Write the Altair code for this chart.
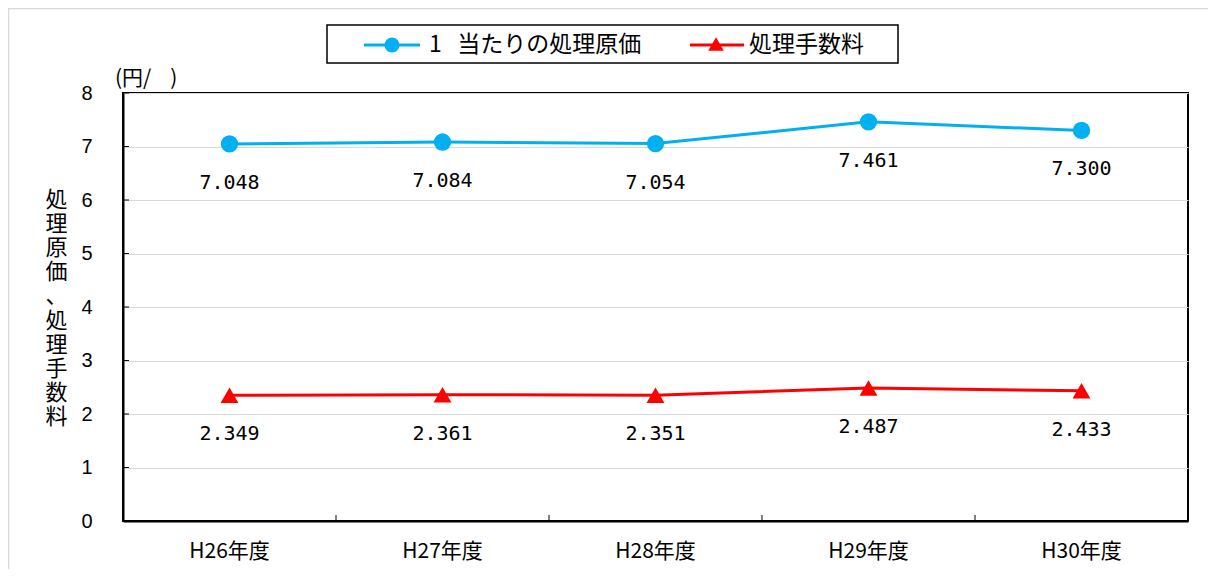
import altair as alt
import pandas as pd

YEARS = ["H26年度", "H27年度", "H28年度", "H29年度", "H30年度"]
UNIT_COST = [7.048, 7.084, 7.054, 7.461, 7.300]
FEE = [2.349, 2.361, 2.351, 2.487, 2.433]
Y_TICKS = [0, 1, 2, 3, 4, 5, 6, 7, 8]
SERIES = ["1\u00a0\u00a0\u00a0当たりの処理原価", "処理手数料"]
COLORS = ["#00B0F0", "#FF0000"]
Y_TITLE = "処理原価、処理手数料"
UNIT_LABEL = "(円/\u00a0\u00a0\u00a0\u00a0)"

W, H = 1065, 428
JP = "Noto Sans CJK JP"

df = pd.DataFrame({
    "year": YEARS * 2,
    "value": UNIT_COST + FEE,
    "series": [SERIES[0]] * len(YEARS) + [SERIES[1]] * len(YEARS),
    "label": [f"{v:.3f}" for v in UNIT_COST + FEE],
})
df_years = pd.DataFrame({"year": YEARS})
df_yticks = pd.DataFrame({"value": Y_TICKS})

x_scale = alt.Scale(type="band", paddingInner=0, paddingOuter=0, domain=YEARS)
x_axis = alt.Axis(title=None, ticks=False, labelFont=JP, labelFontSize=21,
                  labelPadding=19, labelAngle=0, domainColor="black",
                  domainWidth=2, grid=False, labelColor="black")
y_scale = alt.Scale(domain=[0, 8], nice=False)
y_axis = alt.Axis(values=Y_TICKS, title=list(Y_TITLE), titleAngle=0, titleFont=JP,
                  titleFontSize=22, titleFontWeight="normal", titleLineHeight=24.2,
                  titleX=-67, titleY=96, titleAlign="center", titleBaseline="top",
                  titleColor="black", labelFont="Liberation Sans", labelFontSize=20,
                  labelPadding=31, labelColor="black", ticks=False,
                  domainColor="black", domainWidth=2, gridColor="#D9D9D9", gridWidth=1)

x_enc = alt.X("year:N", sort=YEARS, scale=x_scale, axis=x_axis)
y_enc = alt.Y("value:Q", scale=y_scale, axis=y_axis)
color_enc = alt.Color("series:N", scale=alt.Scale(domain=SERIES, range=COLORS), legend=None)
shape_enc = alt.Shape("series:N", scale=alt.Scale(domain=SERIES, range=["circle", "triangle-up"]), legend=None)
size_enc = alt.Size("series:N", scale=alt.Scale(domain=SERIES, range=[300, 320]), legend=None)

one = alt.Data(values=[{}])

border_top = alt.Chart(one).mark_rule(color="#D9D9D9", strokeWidth=1.5).encode(
    x=alt.value(-115), x2=alt.value(W + 20), y=alt.value(-84.5))
border_left = alt.Chart(one).mark_rule(color="#D9D9D9", strokeWidth=1.5).encode(
    x=alt.value(-114.5), y=alt.value(-85), y2=alt.value(H + 48))

xticks = alt.Chart(df_years).mark_rule(color="black", strokeWidth=1).encode(
    x=alt.X("year:N", sort=YEARS, scale=x_scale, axis=x_axis, bandPosition=0),
    y=alt.value(H - 6), y2=alt.value(H))

yticks = alt.Chart(df_yticks).mark_rule(color="black", strokeWidth=1).encode(
    y=y_enc, x=alt.value(0), x2=alt.value(6))

lines = alt.Chart(df).mark_line(strokeWidth=3).encode(
    x=x_enc, y=y_enc, color=color_enc, detail="series:N")

points = alt.Chart(df).mark_point(filled=True, opacity=1).encode(
    x=x_enc, y=y_enc, color=color_enc, shape=shape_enc, size=size_enc)

labels = alt.Chart(df).mark_text(dy=45, font="DejaVu Sans Mono", fontSize=20,
                                 color="black", baseline="alphabetic").encode(
    x=x_enc, y=y_enc, text="label:N")

unit = alt.Chart(one).mark_text(text=UNIT_LABEL, font=JP, fontSize=21, color="black",
                                align="left", baseline="alphabetic").encode(
    x=alt.value(-8), y=alt.value(-8))

# legend
LY = -48
leg_box = alt.Chart(one).mark_rect(fill="white", stroke="black", strokeWidth=1.5).encode(
    x=alt.value(204), x2=alt.value(775), y=alt.value(-68), y2=alt.value(-30))
leg_line1 = alt.Chart(one).mark_rule(color=COLORS[0], strokeWidth=3).encode(
    x=alt.value(241), x2=alt.value(297), y=alt.value(LY))
leg_line2 = alt.Chart(one).mark_rule(color=COLORS[1], strokeWidth=3).encode(
    x=alt.value(567), x2=alt.value(621), y=alt.value(LY))
leg_pt1 = alt.Chart(one).mark_point(filled=True, opacity=1, shape="circle", size=225,
                                    color=COLORS[0]).encode(x=alt.value(269), y=alt.value(LY))
leg_pt2 = alt.Chart(one).mark_point(filled=True, opacity=1, shape="triangle-up", size=240,
                                    color=COLORS[1]).encode(x=alt.value(593), y=alt.value(LY - 1))
leg_t1 = alt.Chart(one).mark_text(text=SERIES[0], font=JP, fontSize=23, color="black",
                                  align="left", baseline="middle").encode(
    x=alt.value(306), y=alt.value(LY))
leg_t2 = alt.Chart(one).mark_text(text=SERIES[1], font=JP, fontSize=23, color="black",
                                  align="left", baseline="middle").encode(
    x=alt.value(626), y=alt.value(LY))

chart = alt.layer(
    border_top, border_left, xticks, yticks, lines, points, labels, unit,
    leg_box, leg_line1, leg_line2, leg_pt1, leg_pt2, leg_t1, leg_t2
).properties(
    width=W, height=H,
    autosize=alt.AutoSizeParams(type="none"),
    padding={"left": 115, "top": 85, "right": 20, "bottom": 48},
    background="white",
).configure_view(stroke="black", strokeWidth=2)

chart.save("out.html", embed_options={"renderer": "svg", "actions": False})
